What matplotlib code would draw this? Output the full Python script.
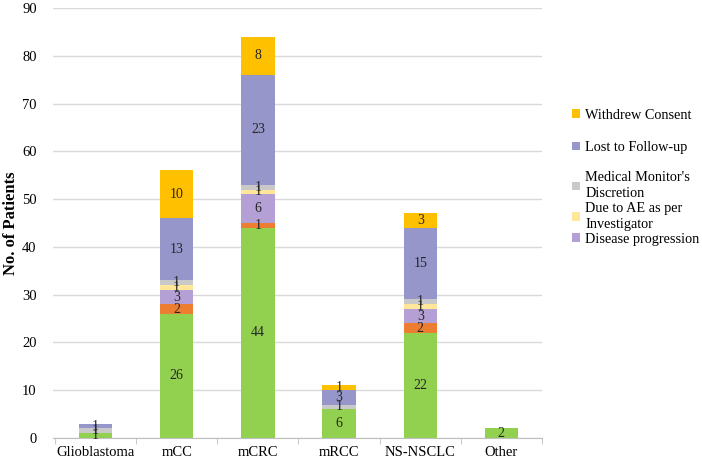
import numpy as np
from matplotlib import pyplot as plt

plt.rcParams["font.family"] = ["Liberation Serif", "DejaVu Serif"]

categories = ["Glioblastoma", "mCC", "mCRC", "mRCC", "NS-NSCLC", "Other"]

# stacked series, bottom to top
completed = [1, 26, 44, 6, 22, 2]
other_reason = [0, 2, 1, 0, 2, 0]
disease_progression = [0, 3, 6, 0, 3, 0]
due_to_ae = [0, 1, 1, 0, 1, 0]
monitor_discretion = [1, 1, 1, 1, 1, 0]
lost_follow_up = [1, 13, 23, 3, 15, 0]
withdrew_consent = [0, 10, 8, 1, 3, 0]

series = [
    (completed, "#92D050", None),
    (other_reason, "#ED7D31", None),
    (disease_progression, "#B4A0D4", "Disease progression"),
    (due_to_ae, "#FFE699", "Due to AE as per\nInvestigator"),
    (monitor_discretion, "#C9C9C9", "Medical Monitor's\nDiscretion"),
    (lost_follow_up, "#9696CA", "Lost to Follow-up"),
    (withdrew_consent, "#FFC000", "Withdrew Consent"),
]

fig = plt.figure(figsize=(7.02, 4.69), dpi=100)
ax = fig.add_axes([0.076, 0.066, 0.696, 0.917])

x = np.arange(len(categories))
bottom = np.zeros(len(categories))
handles = []
for values, color, label in series:
    vals = np.array(values, dtype=float)
    bars = ax.bar(x, vals, 0.41, bottom=bottom, color=color, zorder=2)
    for xi, v, b in zip(x, vals, bottom):
        if v > 0:
            ax.text(xi, b + v / 2, f"{int(v)}", ha="center", va="center",
                    fontsize=10, color="#262626", zorder=3)
    if label:
        handles.append((bars, label))
    bottom += vals

handles = handles[::-1]
leg_kw = dict(loc="upper left", frameon=False, fontsize=10.3,
              handlelength=0.55, handleheight=0.55, handletextpad=0.35,
              borderaxespad=0, borderpad=0)
top_leg = ax.legend([h for h, _ in handles[:2]], [l for _, l in handles[:2]],
                    bbox_to_anchor=(1.062, 0.766), labelspacing=1.35, **leg_kw)
ax.add_artist(top_leg)
low_leg = ax.legend([h for h, _ in handles[2:]], [l for _, l in handles[2:]],
                    bbox_to_anchor=(1.062, 0.62), labelspacing=0.12, **leg_kw)
for t in top_leg.get_texts() + low_leg.get_texts():
    t.set_linespacing(1.3)

ax.set_ylim(0, 90)
ax.set_yticks(range(0, 91, 10))
ax.set_xlim(-0.52, 5.45)
ax.set_xticks(x)
ax.set_xticklabels(categories, fontsize=10.5)
ax.set_xticks(np.arange(-0.5, 6, 1), minor=True)
ax.tick_params(axis="x", which="major", length=0, pad=6)
ax.tick_params(axis="x", which="minor", length=4, color="#BFBFBF")
ax.tick_params(axis="y", length=0, labelsize=10.5, pad=12)
ax.yaxis.grid(True, color="#D9D9D9", linewidth=1, zorder=0)
ax.set_axisbelow(True)
for s in ["top", "right", "left"]:
    ax.spines[s].set_visible(False)
ax.spines["bottom"].set_color("#BFBFBF")
ax.set_ylabel("No. of Patients", fontsize=12, fontweight="bold", labelpad=2)

fig.savefig("out.png", dpi=100)
